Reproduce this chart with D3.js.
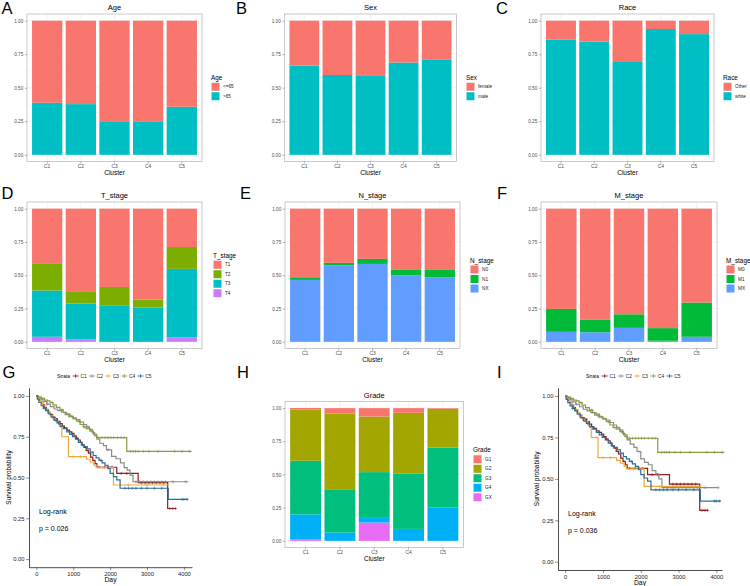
<!DOCTYPE html>
<html><head><meta charset="utf-8">
<script src="https://cdn.jsdelivr.net/npm/d3@7"></script>
<style>body{margin:0;background:#fff}svg{display:block;font-family:"Liberation Sans",Arial,sans-serif}</style>
</head><body><svg id="c" width="750" height="586"></svg>
<script>
// ---------------- DATA ----------------
const clusters = ["C1","C2","C3","C4","C5"];
const yTickVals = [0, 0.25, 0.5, 0.75, 1];

const ageLevels = ["<=65", ">65"];
const ageLe65 = [0.612, 0.622, 0.755, 0.750, 0.642];
const ageGt65 = [0.388, 0.378, 0.245, 0.250, 0.358];

const sexLevels = ["female", "male"];
const sexFemale = [0.335, 0.405, 0.412, 0.312, 0.292];
const sexMale   = [0.665, 0.595, 0.588, 0.688, 0.708];

const raceLevels = ["Other", "white"];
const raceOther = [0.142, 0.155, 0.308, 0.062, 0.100];
const raceWhite = [0.858, 0.845, 0.692, 0.938, 0.900];

const tLevels = ["T1", "T2", "T3", "T4"];
const tT1 = [0.415, 0.620, 0.588, 0.682, 0.288];
const tT2 = [0.200, 0.092, 0.137, 0.060, 0.164];
const tT3 = [0.347, 0.270, 0.275, 0.258, 0.513];
const tT4 = [0.038, 0.018, 0.000, 0.000, 0.035];

const nLevels = ["N0", "N1", "NX"];
const nN0 = [0.515, 0.407, 0.377, 0.460, 0.460];
const nN1 = [0.020, 0.018, 0.038, 0.040, 0.055];
const nNX = [0.465, 0.575, 0.585, 0.500, 0.485];

const mLevels = ["M0", "M1", "MX"];
const mM0 = [0.753, 0.835, 0.793, 0.897, 0.705];
const mM1 = [0.172, 0.093, 0.102, 0.095, 0.257];
const mMX = [0.075, 0.072, 0.105, 0.008, 0.038];

const gradeLevels = ["G1", "G2", "G3", "G4", "GX"];
const gG1 = [0.013, 0.040, 0.063, 0.035, 0.005];
const gG2 = [0.384, 0.576, 0.419, 0.457, 0.292];
const gG3 = [0.405, 0.321, 0.345, 0.418, 0.452];
const gG4 = [0.189, 0.063, 0.035, 0.090, 0.251];
const gGX = [0.010, 0.000, 0.138, 0.000, 0.000];

const hue2 = ["#F8766D", "#00BFC4"];
const hue3 = ["#F8766D", "#00BA38", "#619CFF"];
const hue4 = ["#F8766D", "#7CAE00", "#00BFC4", "#C77CFF"];
const hue5 = ["#F8766D", "#A3A500", "#00BF7D", "#00B0F6", "#E76BF3"];

// Survival step data [day, survival]
const survC1 = [[0,1],[30,0.99],[70,0.975],[120,0.96],[170,0.945],[220,0.93],[270,0.915],[330,0.9],[380,0.885],[440,0.87],[500,0.86],[570,0.845],[640,0.83],[700,0.815],[760,0.805],[830,0.79],[900,0.78],[960,0.77],[1020,0.755],[1080,0.74],[1140,0.73],[1190,0.715],[1240,0.7],[1290,0.685],[1350,0.665],[1410,0.65],[1470,0.625],[1530,0.605],[1590,0.585],[1640,0.563],[2180,0.525],[2760,0.468],[3560,0.31],[3770,0.31]];
const survC2G = [[0,1],[40,0.99],[100,0.98],[180,0.965],[280,0.95],[380,0.935],[480,0.92],[580,0.91],[680,0.9],[780,0.885],[880,0.875],[980,0.865],[1080,0.855],[1180,0.84],[1280,0.825],[1360,0.81],[1440,0.795],[1520,0.775],[1580,0.755],[1640,0.735],[1720,0.71],[1820,0.695],[1900,0.67],[2040,0.63],[2160,0.615],[2280,0.59],[2380,0.56],[2460,0.545],[2540,0.515],[2620,0.474],[4120,0.474]];
const survC2I = [[0,1],[40,0.99],[100,0.98],[180,0.965],[280,0.95],[380,0.935],[480,0.92],[580,0.91],[680,0.9],[780,0.885],[880,0.875],[980,0.865],[1080,0.855],[1180,0.84],[1280,0.825],[1360,0.81],[1440,0.795],[1520,0.775],[1580,0.755],[1640,0.735],[1720,0.71],[1820,0.69],[1900,0.665],[2000,0.62],[2100,0.6],[2200,0.585],[2300,0.55],[2400,0.53],[2480,0.5],[2560,0.447],[4050,0.447]];
const survC3 = [[0,1],[50,0.98],[110,0.96],[170,0.94],[240,0.92],[310,0.9],[380,0.88],[450,0.86],[520,0.845],[600,0.825],[650,0.81],[690,0.75],[870,0.628],[1360,0.612],[1460,0.595],[1560,0.575],[1620,0.56],[2090,0.454],[3600,0.454]];
const survC4 = [[0,1],[50,0.995],[130,0.985],[220,0.975],[300,0.97],[370,0.96],[450,0.945],[540,0.93],[640,0.915],[730,0.9],[820,0.89],[910,0.875],[1000,0.86],[1090,0.845],[1185,0.825],[1270,0.81],[1350,0.8],[1450,0.785],[1545,0.765],[1636,0.745],[2450,0.66],[4210,0.66]];
const survC5 = [[0,1],[25,0.98],[70,0.96],[130,0.94],[190,0.925],[250,0.91],[320,0.89],[400,0.87],[480,0.85],[560,0.835],[640,0.815],[730,0.8],[824,0.78],[900,0.765],[980,0.75],[1060,0.735],[1140,0.715],[1220,0.7],[1300,0.69],[1380,0.675],[1460,0.655],[1540,0.635],[1620,0.62],[1700,0.605],[1780,0.59],[1860,0.575],[1940,0.555],[2000,0.525],[2090,0.505],[2180,0.486],[2270,0.434],[3577,0.366],[4120,0.366]];

const cenC1 = [520,1100,1700,1850,1950,2050,2300,2450,2850,2950,3050,3150,3250,3350,3450,3620,3700,3770];
const cenC2 = [300,900,1400,1950,2700,2800,2900,3000,3100,3200,3300,3400,3500,3700,4050];
const cenC3 = [400,1000,1200,1800,2500,3000,3450];
const cenC4 = [150,420,700,950,1150,1300,1480,1700,1780,1860,1940,2020,2100,2200,2300,2380,2550,2620,2690,2760,2900,3050,3300,3750,3950,4150];
const cenC5 = [200,600,1250,1750,2400,2500,2600,2700,2850,3000,3200,3400,3950,4000,4080];

const strataColors = ["#8B1E1E", "#8C8C8C", "#EFA93A", "#8A9A45", "#2E6E99"];
const dayTicks = [0, 1000, 2000, 3000, 4000];

// ---------------- DRAW ----------------
const svg = d3.select("#c");
const FONT = "Liberation Sans, Arial, sans-serif";
svg.append("rect").attr("width",750).attr("height",586).attr("fill","#fff");

function barPanel(cfg) {
  const {x0,x1,y0,y1,title,levels,values,colors,legendX} = cfg;
  const g = svg.append("g");
  const x = d3.scaleBand().domain(clusters).range([x0,x1]).paddingInner(0.1).paddingOuter(0.15);
  const y = d3.scaleLinear().domain([-0.05,1.05]).range([y1,y0]);
  const minor = [0.125,0.375,0.625,0.875];
  g.selectAll(".mn").data(minor).join("line")
    .attr("x1",x0).attr("x2",x1).attr("y1",d=>y(d)).attr("y2",d=>y(d))
    .attr("stroke","#f3f3f3").attr("stroke-width",0.4);
  g.selectAll(".mj").data(yTickVals).join("line")
    .attr("x1",x0).attr("x2",x1).attr("y1",d=>y(d)).attr("y2",d=>y(d))
    .attr("stroke","#ebebeb").attr("stroke-width",0.6);
  g.selectAll(".vx").data(clusters).join("line")
    .attr("x1",d=>x(d)+x.bandwidth()/2).attr("x2",d=>x(d)+x.bandwidth()/2)
    .attr("y1",y0).attr("y2",y1).attr("stroke","#ebebeb").attr("stroke-width",0.6);

  const rows = clusters.map((c,i)=>{const o={cluster:c}; levels.forEach((l,j)=>o[l]=values[j][i]); return o;});
  const stacked = d3.stack().keys(levels.slice().reverse())(rows);
  const color = d3.scaleOrdinal().domain(levels).range(colors);
  g.selectAll("g.layer").data(stacked).join("g").attr("fill",d=>color(d.key))
    .selectAll("rect").data(d=>d).join("rect")
    .attr("x",d=>x(d.data.cluster)).attr("width",x.bandwidth())
    .attr("y",d=>y(d[1])).attr("height",d=>Math.max(0,y(d[0])-y(d[1])));

  g.append("rect").attr("x",x0).attr("y",y0).attr("width",x1-x0).attr("height",y1-y0)
    .attr("fill","none").attr("stroke","#b3b3b3").attr("stroke-width",0.7);

  const ya = g.append("g").attr("transform",`translate(${x0},0)`)
    .call(d3.axisLeft(y).tickValues(yTickVals).tickFormat(d3.format(".2f")).tickSize(2.2).tickPadding(1.5));
  ya.select(".domain").remove();
  ya.attr("font-family",FONT);
  ya.selectAll("text").attr("font-size",4.7).attr("fill","#4d4d4d");
  ya.selectAll("line").attr("stroke","#4d4d4d").attr("stroke-width",0.4);

  const xa = g.append("g").attr("transform",`translate(0,${y1})`)
    .call(d3.axisBottom(x).tickSize(2.2).tickPadding(1.2));
  xa.select(".domain").remove();
  xa.attr("font-family",FONT);
  xa.selectAll("text").attr("font-size",4.9).attr("fill","#4d4d4d");
  xa.selectAll("line").attr("stroke","#4d4d4d").attr("stroke-width",0.4);

  g.append("text").attr("x",(x0+x1)/2).attr("y",y1+13).attr("text-anchor","middle")
    .attr("font-size",6.5).attr("fill","#000").text("Cluster");
  g.append("text").attr("x",(x0+x1)/2).attr("y",y0-4).attr("text-anchor","middle")
    .attr("font-size",7.5).attr("fill","#000").text(title);

  // legend
  const n = levels.length, step = 9.5, key = 8;
  const top = (y0+y1)/2 - (9 + n*step)/2;
  g.append("text").attr("x",legendX).attr("y",top+6).attr("font-size",6.4).attr("fill","#000").text(title);
  levels.forEach((l,i)=>{
    g.append("rect").attr("x",legendX+0.5).attr("y",top+9+i*step).attr("width",key).attr("height",key).attr("fill",color(l));
    g.append("text").attr("x",legendX+12).attr("y",top+9+i*step+key/2+1.6)
      .attr("font-size",4.7).attr("fill","#222").text(l);
  });
}

function stepValue(steps, t) {
  const i = d3.bisector(d=>d[0]).right(steps, t) - 1;
  return steps[Math.max(0,i)][1];
}

function survPanel(cfg) {
  const {ax0,ax1,xDom,ay0,ay1,curves,cens,pText,legendX,ylabX,textX} = cfg;
  const g = svg.append("g");
  const x = d3.scaleLinear().domain(xDom).range([ax0,ax1]);
  const y = d3.scaleLinear().domain([-0.05,1.05]).range([ay1,ay0]);
  const line = d3.line().x(d=>x(d[0])).y(d=>y(d[1])).curve(d3.curveStepAfter);
  curves.forEach((c,i)=>{
    g.append("path").attr("d",line(c)).attr("fill","none")
      .attr("stroke",strataColors[i]).attr("stroke-width",1.2);
    const pts = cens[i].map(t=>[t, stepValue(c,t)]);
    g.selectAll(null).data(pts).join("path")
      .attr("d",d=>{const px=x(d[0]), py=y(d[1]); return `M${px-1.6},${py}H${px+1.6}M${px},${py-1.6}V${py+1.6}`;})
      .attr("stroke",strataColors[i]).attr("stroke-width",0.6).attr("fill","none");
  });
  const ya = g.append("g").attr("transform",`translate(${ax0},0)`)
    .call(d3.axisLeft(y).tickValues(yTickVals).tickFormat(d3.format(".2f")).tickSize(3).tickSizeOuter(0).tickPadding(1.5));
  ya.attr("font-family",FONT);
  ya.select(".domain").attr("stroke","#000").attr("stroke-width",0.7);
  ya.selectAll("text").attr("font-size",5.8).attr("fill","#222");
  ya.selectAll(".tick line").attr("stroke","#222").attr("stroke-width",0.5);
  const xa = g.append("g").attr("transform",`translate(0,${ay1})`)
    .call(d3.axisBottom(x).tickValues(dayTicks).tickFormat(d3.format("d")).tickSize(3).tickSizeOuter(0).tickPadding(1.5));
  xa.attr("font-family",FONT);
  xa.select(".domain").attr("stroke","#000").attr("stroke-width",0.7);
  xa.selectAll("text").attr("font-size",5.8).attr("fill","#222");
  xa.selectAll(".tick line").attr("stroke","#222").attr("stroke-width",0.5);

  g.append("text").attr("x",(ax0+ax1)/2).attr("y",ay1+15).attr("text-anchor","middle")
    .attr("font-size",6.8).attr("fill","#000").text("Day");
  g.append("text").attr("transform",`translate(${ylabX},${(ay0+ay1)/2}) rotate(-90)`)
    .attr("text-anchor","middle").attr("font-size",6.5).attr("fill","#000").text("Survival probability");
  g.append("text").attr("x",textX).attr("y",y(0.275)).attr("font-size",7).attr("fill","#000").text("Log-rank");
  g.append("text").attr("x",textX).attr("y",y(0.175)).attr("font-size",7).attr("fill","#000").text(pText);

  // strata legend
  const ly = 376;
  g.append("text").attr("x",legendX).attr("y",ly+1.7).attr("font-size",4.8).attr("fill","#000").text("Strata");
  clusters.forEach((c,i)=>{
    const ix = legendX + 15.7 + i*16.2;
    g.append("path").attr("d",`M${ix},${ly}H${ix+6}M${ix+3},${ly-1.8}V${ly+1.8}`)
      .attr("stroke",strataColors[i]).attr("stroke-width",0.9).attr("fill","none");
    g.append("text").attr("x",ix+7.8).attr("y",ly+1.7).attr("font-size",4.8).attr("fill","#222").text(c);
  });
}

barPanel({x0:27,x1:202,y0:14,y1:161.5,title:"Age",levels:ageLevels,values:[ageLe65,ageGt65],colors:hue2,legendX:211});
barPanel({x0:284.5,x1:456.5,y0:14,y1:161.5,title:"Sex",levels:sexLevels,values:[sexFemale,sexMale],colors:hue2,legendX:466});
barPanel({x0:541,x1:714,y0:14,y1:161.5,title:"Race",levels:raceLevels,values:[raceOther,raceWhite],colors:hue2,legendX:723});
barPanel({x0:27,x1:202,y0:202,y1:348.5,title:"T_stage",levels:tLevels,values:[tT1,tT2,tT3,tT4],colors:hue4,legendX:213});
barPanel({x0:285,x1:460,y0:202,y1:348.5,title:"N_stage",levels:nLevels,values:[nN0,nN1,nNX],colors:hue3,legendX:470});
barPanel({x0:541,x1:717,y0:202,y1:348.5,title:"M_stage",levels:mLevels,values:[mM0,mM1,mMX],colors:hue3,legendX:726});
barPanel({x0:285,x1:463.5,y0:401.5,y1:547.5,title:"Grade",levels:gradeLevels,values:[gG1,gG2,gG3,gG4,gGX],colors:hue5,legendX:473});

survPanel({ax0:29,ax1:192,xDom:[-200,4220],ay0:387.8,ay1:567.2,
  curves:[survC1,survC2G,survC3,survC4,survC5],cens:[cenC1,cenC2,cenC3,cenC4,cenC5],
  pText:"p = 0.026",legendX:57,ylabX:11,textX:39});
survPanel({ax0:558,ax1:722,xDom:[-190,4150],ay0:387.7,ay1:570,
  curves:[survC1,survC2I,survC3,survC4,survC5],cens:[cenC1,cenC2,cenC3,cenC4,cenC5],
  pText:"p = 0.036",legendX:586,ylabX:539,textX:568});

// panel letters
const letters = [["A",1.5,13.5],["B",236,13.5],["C",496,13.5],["D",1.5,199],["E",240,199],["F",497,199],["G",2.5,377.5],["H",237,377.5],["I",497,377.5]];
svg.selectAll("text.lt").data(letters).join("text").attr("class","lt")
  .attr("x",d=>d[1]).attr("y",d=>d[2]).attr("font-size",16.5).attr("fill","#000").text(d=>d[0]);
</script></body></html>
